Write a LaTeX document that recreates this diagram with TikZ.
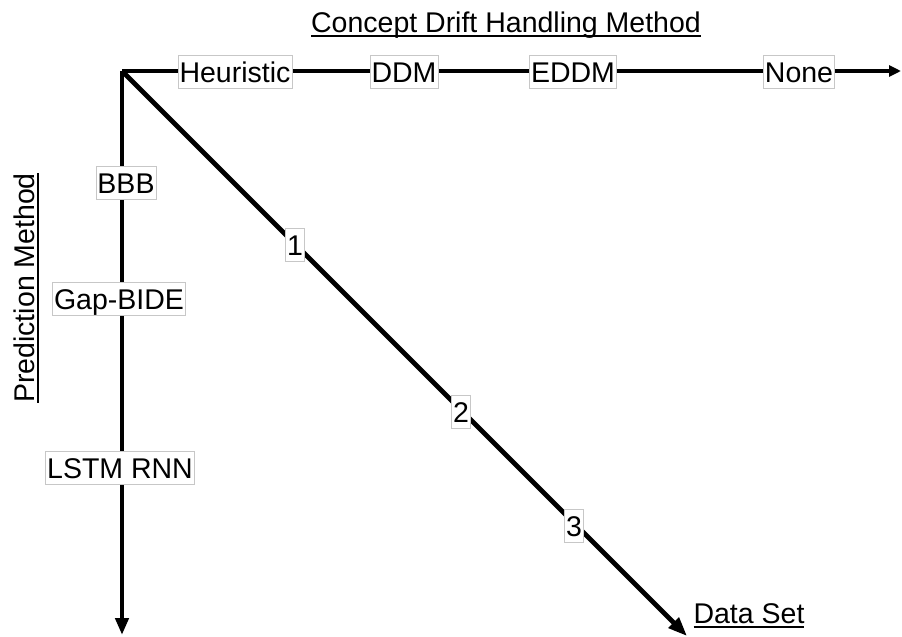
\documentclass[tikz,border=0pt]{standalone}
\usepackage{fontspec}
\setmainfont{Liberation Sans}
\usetikzlibrary{arrows.meta}
\newcommand\myuline[1]{\setbox0\hbox{#1}\rlap{\raisebox{-4.5pt}{\rule{\wd0}{2pt}}}\box0}
\tikzset{
  axis/.style={line width=4.6pt},
  lbl/.style={fill=white, draw=black!22, line width=0.8pt, inner xsep=1.5pt, inner ysep=3pt,
    text height=24pt, text depth=3pt, font=\fontsize{28.5}{32}\selectfont},
  title/.style={inner sep=0pt, font=\fontsize{28.5}{32}\selectfont, anchor=base}
}
\begin{document}
\begin{tikzpicture}[x=1pt,y=-1pt]
\useasboundingbox (0,0) rectangle (902,637);
\coordinate (o) at (122,71);
\coordinate (xe) at (901,71);
\coordinate (ye) at (122,635);
\coordinate (ze) at (687,636);
\draw[axis, -{Triangle[length=12pt,width=11pt]}] (o) -- (xe);
\draw[axis, -{Triangle[length=17pt,width=13pt]}] (o) -- (ye);
\draw[axis, -{Triangle[length=19pt,width=14pt]}] (o) -- (ze);
% top axis labels
\node[lbl] (heur) at (235,71.5) {Heuristic};
\node[lbl] (ddm) at (404,71.5) {DDM};
\node[lbl] (eddm) at (573,71.5) {EDDM};
\node[lbl] (none) at (799,71.5) {None};
% vertical axis labels
\node[lbl] (bbb) at (126,183) {BBB};
\node[lbl] (gap) at (119,299) {Gap-BIDE};
\node[lbl] (lstm) at (120,468) {LSTM RNN};
% diagonal labels
\node[lbl] (d1) at (295,245) {1};
\node[lbl] (d2) at (461,412) {2};
\node[lbl] (d3) at (574,526) {3};
% titles
\node[title] (tx) at (506,32) {\myuline{Concept Drift Handling Method}};
\node[title, rotate=90] (ty) at (34,288) {\myuline{Prediction Method}};
\node[title] (tz) at (749,623) {\myuline{Data Set}};
\end{tikzpicture}
\end{document}
